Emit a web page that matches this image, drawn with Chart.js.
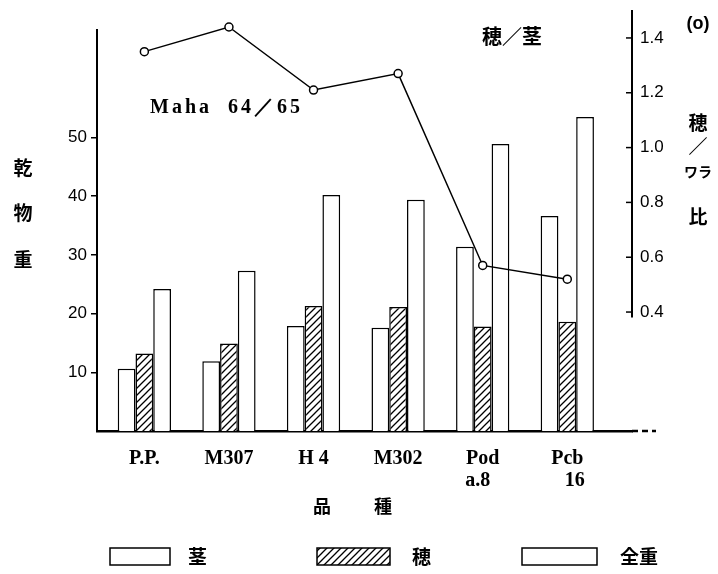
<!DOCTYPE html>
<html>
<head>
<meta charset="utf-8">
<script src="https://cdn.jsdelivr.net/npm/chart.js@4/dist/chart.umd.min.js"></script>
<style>
  html, body { margin: 0; padding: 0; background: #fff; }
  #wrap { width: 718px; height: 574px; }
</style>
</head>
<body>
<div id="wrap"><canvas id="chart"></canvas></div>
<script>
const varieties = [['P.P.'], ['M307'], ['H 4'], ['M302'], ['Pod', 'a.8  '], ['Pcb', '   16']];

// 乾物重
const stemWeight = [10.6, 11.9, 17.9, 17.6, 31.4, 36.6];
const earWeight = [13.2, 14.9, 21.3, 21.1, 17.8, 18.6];
const totalWeight = [24.2, 27.3, 40.2, 39.4, 48.9, 53.5];

// 穂/茎 比
const earStemRatio = [1.35, 1.44, 1.21, 1.27, 0.57, 0.52];

const weightTicks = [10, 20, 30, 40, 50];
const ratioTicks = [0.4, 0.6, 0.8, 1.0, 1.2, 1.4];

const legendLabels = ['茎', '穂', '全重'];

const cjk = '"Noto Sans CJK JP", "Noto Sans CJK SC", sans-serif';

function hatchPattern() {
  const c = document.createElement('canvas');
  c.width = 7;
  c.height = 7;
  const g = c.getContext('2d');
  g.fillStyle = '#fff';
  g.fillRect(0, 0, 7, 7);
  g.strokeStyle = '#000';
  g.lineWidth = 1.3;
  g.beginPath();
  g.moveTo(0, 7); g.lineTo(7, 0);
  g.moveTo(-3.5, 3.5); g.lineTo(3.5, -3.5);
  g.moveTo(3.5, 10.5); g.lineTo(10.5, 3.5);
  g.stroke();
  return g.createPattern(c, 'repeat');
}

function points(values) {
  return values.map((v, i) => ({ x: i + 1, y: v }));
}

const hatch = hatchPattern();

const decor = {
  id: 'decor',
  afterDraw(chart) {
    const ctx = chart.ctx;
    const area = chart.chartArea;
    const r = chart.scales.y2;
    ctx.save();
    ctx.strokeStyle = '#000';
    ctx.fillStyle = '#000';

    // right axis line (stops just under 0.4) and inward ticks
    ctx.lineWidth = 2;
    ctx.beginPath();
    ctx.moveTo(r.left, area.top - 20);
    ctx.lineTo(r.left, r.getPixelForValue(0.38));
    ctx.stroke();
    ctx.lineWidth = 1.5;
    ratioTicks.forEach(v => {
      const y = r.getPixelForValue(v);
      ctx.beginPath();
      ctx.moveTo(r.left - 6, y);
      ctx.lineTo(r.left, y);
      ctx.stroke();
    });

    // baseline runs on a little past the right axis, broken
    ctx.lineWidth = 2.5;
    ctx.setLineDash([6, 4]);
    ctx.beginPath();
    ctx.moveTo(area.right, area.bottom);
    ctx.lineTo(area.right + 24, area.bottom);
    ctx.stroke();
    ctx.setLineDash([]);

    ctx.textBaseline = 'middle';
    ctx.textAlign = 'left';
    ctx.font = 'bold 20px "Liberation Serif", serif';
    ctx.letterSpacing = '3px';
    ctx.fillText('Maha  64／65', 150, 108);
    ctx.letterSpacing = '0px';

    ctx.textAlign = 'center';
    ctx.font = 'bold 20px ' + cjk;
    ctx.fillText('穂／茎', 512, 36);

    ctx.font = 'bold 18px "Liberation Sans", sans-serif';
    ctx.fillText('(o)', 698, 24);

    // right axis title
    ctx.font = 'bold 19px ' + cjk;
    ctx.fillText('穂', 698, 123);
    ctx.fillText('／', 698, 147);
    ctx.font = 'bold 14px ' + cjk;
    ctx.fillText('ワラ', 698, 172);
    ctx.font = 'bold 19px ' + cjk;
    ctx.fillText('比', 698, 217);

    // left axis title
    ctx.fillText('乾', 23, 168);
    ctx.fillText('物', 23, 213);
    ctx.fillText('重', 23, 260);

    // x axis title
    ctx.font = 'bold 18px ' + cjk;
    ctx.fillText('品', 322, 506);
    ctx.fillText('種', 383, 506);

    // legend
    const boxes = [[110, 60], [317, 73], [522, 75]];
    const textX = [188, 412, 620];
    ctx.textAlign = 'left';
    ctx.font = 'bold 19px ' + cjk;
    chart.data.datasets.slice(0, 3).forEach((ds, i) => {
      ctx.fillStyle = ds.backgroundColor;
      ctx.fillRect(boxes[i][0], 548, boxes[i][1], 17);
      ctx.lineWidth = 1.5;
      ctx.strokeRect(boxes[i][0], 548, boxes[i][1], 17);
      ctx.fillStyle = '#000';
      ctx.fillText(legendLabels[i], textX[i], 557);
    });
    ctx.restore();
  },
};

const barStyle = {
  borderColor: '#000',
  borderWidth: 1.5,
  borderSkipped: 'start',
  categoryPercentage: 0.63,
  barPercentage: 1.0,
  order: 1,
};

new Chart(document.getElementById('chart'), {
  type: 'bar',
  data: {
    datasets: [
      { ...barStyle, label: legendLabels[0], data: points(stemWeight), backgroundColor: '#fff' },
      { ...barStyle, label: legendLabels[1], data: points(earWeight), backgroundColor: hatch },
      { ...barStyle, label: legendLabels[2], data: points(totalWeight), backgroundColor: '#fff' },
      {
        type: 'line',
        label: '穂／茎',
        data: points(earStemRatio),
        yAxisID: 'y2',
        borderColor: '#000',
        borderWidth: 1.5,
        pointRadius: 4,
        pointBackgroundColor: '#fff',
        pointBorderColor: '#000',
        pointBorderWidth: 1.5,
        tension: 0,
        clip: false,
        order: 0,
      },
    ],
  },
  options: {
    responsive: true,
    maintainAspectRatio: false,
    animation: false,
    layout: { padding: { left: 0, right: 0, top: 30, bottom: 0 } },
    plugins: {
      legend: { display: false },
      tooltip: { enabled: false },
    },
    scales: {
      x: {
        type: 'linear',
        offset: false,
        min: 0.44,
        max: 6.765,
        afterBuildTicks: scale => {
          scale.ticks = varieties.map((_, i) => ({ value: i + 1 }));
        },
        afterFit: scale => {
          scale.height = 143;
        },
        ticks: {
          autoSkip: false,
          maxRotation: 0,
          padding: 17,
          color: '#000',
          font: { family: '"Liberation Serif", serif', size: 20, weight: 'bold', lineHeight: 1.1 },
          callback: v => varieties[v - 1],
        },
        grid: { display: true, drawOnChartArea: false, drawTicks: false },
        border: { color: '#000', width: 2.5 },
      },
      y: {
        position: 'left',
        min: 0,
        max: 68.3,
        afterBuildTicks: scale => {
          scale.ticks = weightTicks.map(v => ({ value: v }));
        },
        afterFit: scale => {
          scale.width = 97;
        },
        ticks: {
          padding: 4,
          color: '#000',
          font: { family: '"Liberation Sans", sans-serif', size: 17 },
        },
        grid: { drawOnChartArea: false, tickLength: 6, color: '#000', lineWidth: 1.5 },
        border: { color: '#000', width: 2 },
      },
      y2: {
        position: 'right',
        min: -0.034,
        max: 1.429,
        afterBuildTicks: scale => {
          scale.ticks = ratioTicks.map(v => ({ value: v }));
        },
        afterFit: scale => {
          scale.width = 86;
        },
        ticks: {
          padding: 8,
          color: '#000',
          font: { family: '"Liberation Sans", sans-serif', size: 17 },
          callback: v => v.toFixed(1),
        },
        grid: { drawOnChartArea: false, drawTicks: false },
        border: { display: false },
      },
    },
  },
  plugins: [decor],
});
</script>
</body>
</html>
